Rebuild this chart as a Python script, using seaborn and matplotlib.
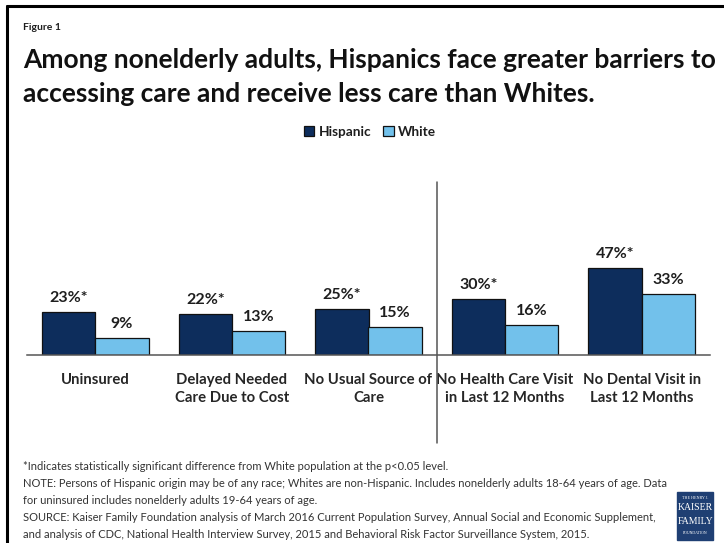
import matplotlib
matplotlib.use("Agg")
import matplotlib.pyplot as plt
from matplotlib.lines import Line2D
from matplotlib.patches import Rectangle
import seaborn as sns
import pandas as pd

# --- data -------------------------------------------------------------
categories = [
    "Uninsured",
    "Delayed Needed\nCare Due to Cost",
    "No Usual Source of\nCare",
    "No Health Care Visit\nin Last 12 Months",
    "No Dental Visit in\nLast 12 Months",
]
groups = ["Hispanic", "White"]
hispanic = [23, 22, 25, 30, 47]
white = [9, 13, 15, 16, 33]
significant = [True, True, True, True, True]

title_lines = [
    "Among nonelderly adults, Hispanics face greater barriers to",
    "accessing care and receive less care than Whites.",
]
footnotes = [
    "*Indicates statistically significant difference from White population at the p<0.05 level.",
    "NOTE: Persons of Hispanic origin may be of any race; Whites are non-Hispanic. Includes nonelderly adults 18-64 years of age. Data",
    "for uninsured includes nonelderly adults 19-64 years of age.",
    "SOURCE: Kaiser Family Foundation analysis of March 2016 Current Population Survey, Annual Social and Economic Supplement,",
    "and analysis of CDC, National Health Interview Survey, 2015 and Behavioral Risk Factor Surveillance System, 2015.",
]

df = pd.DataFrame({
    "category": categories * 2,
    "group": [groups[0]] * len(categories) + [groups[1]] * len(categories),
    "value": hispanic + white,
})

# --- style ------------------------------------------------------------
sns.set_theme(style="white")
plt.rcParams["font.family"] = ["Lato", "DejaVu Sans"]

NAVY = "#0d2d5c"
LIGHT = "#72c1eb"
TEXT = "#1e1e1e"

W, H = 724, 543
fig = plt.figure(figsize=(W / 100, H / 100), dpi=100)
fig.patch.set_facecolor("white")

def fx(px):
    return px / W

def fy(py):
    return 1 - py / H

ax_left, ax_right, ax_base, ax_top = 27, 710, 355, 182
ax = fig.add_axes([fx(ax_left), fy(ax_base), fx(ax_right - ax_left), (ax_base - ax_top) / H])

sns.barplot(
    data=df, x="category", y="value", hue="group",
    palette=[NAVY, LIGHT], width=0.78, edgecolor="#111111", linewidth=0.9,
    saturation=1, ax=ax, legend=True,
)

ymax = (ax_base - ax_top) / 1.86
ax.set_ylim(0, ymax)
ax.set_xlim(-0.5, len(categories) - 0.5)

# value labels
hisp_labels = [f"{v}%" + ("*" if s else "") for v, s in zip(hispanic, significant)]
white_labels = [f"{v}%" for v in white]
for cont, labs in zip(ax.containers, [hisp_labels, white_labels]):
    ax.bar_label(cont, labels=labs, padding=5, fontsize=11.5, fontweight="bold", color=TEXT)

# axes cosmetics
for s in ["top", "right", "left"]:
    ax.spines[s].set_visible(False)
ax.spines["bottom"].set_color("#555555")
ax.spines["bottom"].set_linewidth(1.1)
ax.set_yticks([])
ax.set_xlabel("")
ax.set_ylabel("")
ax.set_xticks(range(len(categories)))
ax.set_xticklabels(categories, fontsize=10.7, fontweight="bold", color="#262626", linespacing=1.35)
ax.tick_params(axis="x", which="major", length=0, pad=13)
ax.set_xticks([i - 0.5 for i in range(len(categories) + 1)], minor=True)
ax.tick_params(axis="x", which="minor", length=5, width=1.0, color="#555555", direction="out")

# divider between access measures and utilisation measures
ax.plot([2.5, 2.5], [-(443 - ax_base) / 1.86, ymax], color="#555555", lw=1.1, clip_on=False)

# legend
handles, labels = ax.get_legend_handles_labels()
ax.legend(
    handles, labels, loc="center", bbox_to_anchor=(fx(370), fy(132)),
    bbox_transform=fig.transFigure, ncol=2, frameon=False,
    handlelength=0.75, handleheight=0.75, handletextpad=0.3, columnspacing=0.9,
    prop={"size": 9.8, "weight": "bold"},
)
for t in ax.get_legend().get_texts():
    t.set_color(TEXT)

# titles
fig.text(fx(23), fy(28), "Figure 1", fontsize=7.5, fontweight="bold", color=TEXT, va="center")
fig.text(fx(23), fy(60), title_lines[0], fontsize=19, fontweight="bold", color="#111111", va="center")
fig.text(fx(23), fy(94), title_lines[1], fontsize=19, fontweight="bold", color="#111111", va="center")

# footnotes
for i, line in enumerate(footnotes):
    fig.text(fx(23), fy(467 + i * 16.8), line, fontsize=8.05, color="#333333", va="center")

# outer frame (top and left edges)
fig.add_artist(Line2D([fx(7), 1], [fy(6), fy(6)], color="black", lw=2.2))
fig.add_artist(Line2D([fx(7), fx(7)], [fy(6), 0], color="black", lw=2.2))

# foundation logo
fig.add_artist(Rectangle((fx(677), fy(540)), fx(36), 48 / H, color="#1f3f73", transform=fig.transFigure))
logo_lines = [("THE HENRY J.", 3.0, 498), ("KAISER", 7.0, 508), ("FAMILY", 7.0, 521), ("FOUNDATION", 2.8, 533)]
for txt, size, py in logo_lines:
    fig.text(fx(695), fy(py), txt, fontsize=size, color="white", ha="center", va="center",
             family=["Liberation Serif", "DejaVu Serif"])

fig.savefig("out.png", dpi=100, facecolor="white")
